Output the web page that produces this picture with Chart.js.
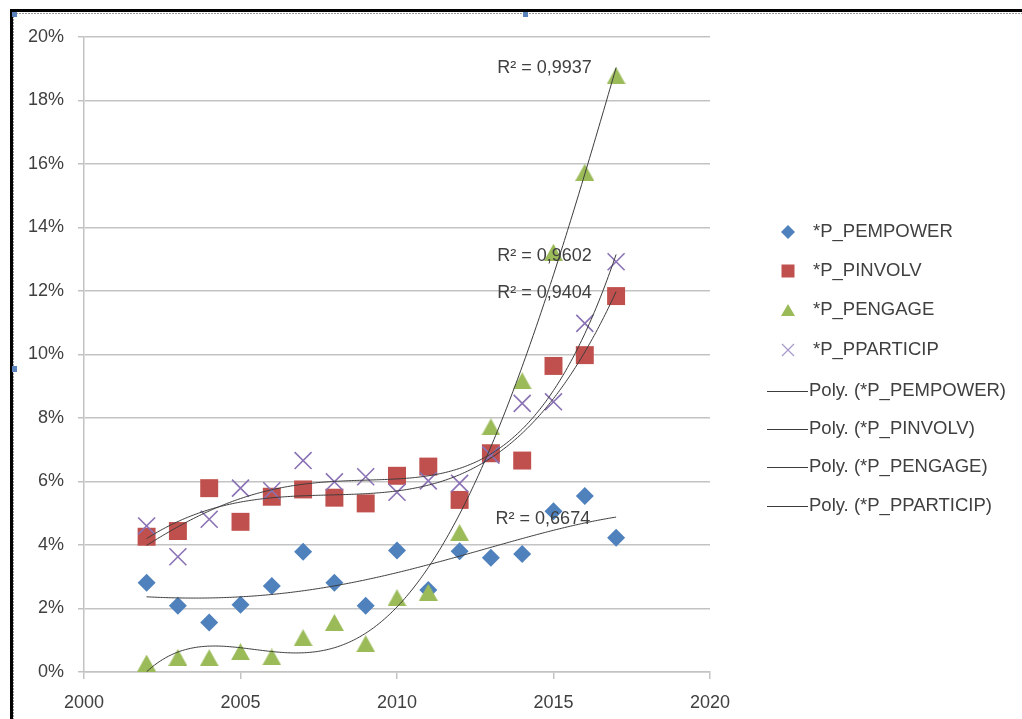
<!DOCTYPE html>
<html>
<head>
<meta charset="utf-8">
<script src="https://cdn.jsdelivr.net/npm/chart.js@4/dist/chart.umd.min.js"></script>
<style>
  html, body { margin: 0; padding: 0; background: #fff; }
  #wrap { width: 1022px; height: 719px; position: relative; }
</style>
</head>
<body>
<div id="wrap"><canvas id="c" width="1022" height="719"></canvas></div>
<script>
// Yearly shares (%) for each indicator
const years = [2002, 2003, 2004, 2005, 2006, 2007, 2008, 2009, 2010, 2011, 2012, 2013, 2014, 2015, 2016, 2017];
const pEmpower  = [2.81, 2.09, 1.56, 2.12, 2.71, 3.79, 2.81, 2.09, 3.83, 2.58, 3.80, 3.60, 3.72, 5.06, 5.54, 4.23];
const pInvolv   = [4.26, 4.44, 5.79, 4.73, 5.52, 5.75, 5.49, 5.31, 6.18, 6.47, 5.42, 6.89, 6.66, 9.64, 9.98, 11.84];
const pEngage   = [0.28, 0.46, 0.45, 0.64, 0.48, 1.08, 1.56, 0.89, 2.34, 2.51, 4.39, 7.72, 9.17, 13.22, 15.74, 18.78];
const pParticip = [4.60, 3.63, 4.81, 5.79, 5.71, 6.66, 5.99, 6.15, 5.66, 6.02, 5.94, 6.83, 8.46, 8.51, 10.98, 12.92];

const seriesNames = ['*P_PEMPOWER', '*P_PINVOLV', '*P_PENGAGE', '*P_PPARTICIP'];
const r2Labels = ['R² = 0,6674', 'R² = 0,9404', 'R² = 0,9937', 'R² = 0,9602'];
const r2LabelPos = [[2013.15, 4.82], [2013.2, 11.94], [2013.2, 19.02], [2013.2, 13.10]];
const xTicks = [2000, 2005, 2010, 2015, 2020];

const FONT = '"Liberation Sans", Arial, sans-serif';
const TXT = '#404040';
const colors = ['#4f81bd', '#c0504d', '#9bbb59', '#8a72b5'];
const POLY_ORDER = 4;

// least-squares polynomial trendline (x centred and scaled for conditioning)
function polyfit(xs, ys, n) {
  const m = n + 1;
  const A = Array.from({length: m}, () => new Array(m).fill(0));
  const b = new Array(m).fill(0);
  xs.forEach((x0, k) => {
    const t = (x0 - 2009.5) / 7.5;
    for (let i = 0; i < m; i++) {
      b[i] += ys[k] * Math.pow(t, i);
      for (let j = 0; j < m; j++) A[i][j] += Math.pow(t, i + j);
    }
  });
  for (let c = 0; c < m; c++) {
    let p = c;
    for (let r = c + 1; r < m; r++) if (Math.abs(A[r][c]) > Math.abs(A[p][c])) p = r;
    [A[c], A[p]] = [A[p], A[c]]; [b[c], b[p]] = [b[p], b[c]];
    for (let r = c + 1; r < m; r++) {
      const f = A[r][c] / A[c][c];
      for (let j = c; j < m; j++) A[r][j] -= f * A[c][j];
      b[r] -= f * b[c];
    }
  }
  const coef = new Array(m).fill(0);
  for (let i = m - 1; i >= 0; i--) {
    let s = b[i];
    for (let j = i + 1; j < m; j++) s -= A[i][j] * coef[j];
    coef[i] = s / A[i][i];
  }
  return x => {
    const t = (x - 2009.5) / 7.5;
    return coef.reduce((acc, c, i) => acc + c * Math.pow(t, i), 0);
  };
}

const allSeries = [pEmpower, pInvolv, pEngage, pParticip];
function trendPoints(ys) {
  const f = polyfit(years, ys, POLY_ORDER);
  const pts = [];
  for (let x = years[0]; x <= years[years.length - 1] + 1e-9; x += 0.05) pts.push({x: x, y: f(x)});
  return pts;
}

// triangle marker centred on its bounding box
function triangleCanvas(w, h, color) {
  const cv = document.createElement('canvas');
  cv.width = w; cv.height = h;
  const g = cv.getContext('2d');
  g.fillStyle = color;
  g.beginPath(); g.moveTo(w / 2, 0); g.lineTo(w, h); g.lineTo(0, h); g.closePath(); g.fill();
  return cv;
}
const triBig = triangleCanvas(19, 17, colors[2]);
const triSmall = triangleCanvas(14, 12, colors[2]);

const pointStyles = ['rectRot', 'rect', triBig, 'crossRot'];
const pointRadius = [9, 12.7, 9, 12];

const datasets = [];
allSeries.forEach((ys, i) => {
  datasets.push({
    type: 'scatter',
    label: seriesNames[i],
    data: years.map((x, k) => ({x: x, y: ys[k]})),
    pointStyle: pointStyles[i],
    pointRadius: pointRadius[i],
    pointHoverRadius: pointRadius[i],
    backgroundColor: colors[i],
    borderColor: colors[i],
    pointBorderWidth: i === 3 ? 1.6 : 0,
    showLine: false,
    order: 10 - i
  });
});
allSeries.forEach((ys, i) => {
  datasets.push({
    type: 'line',
    label: 'Poly. (' + seriesNames[i] + ')',
    data: trendPoints(ys),
    borderColor: '#3c3c3c',
    borderWidth: 1,
    pointRadius: 0,
    tension: 0,
    fill: false,
    order: 1
  });
});

const framePlugin = {
  id: 'frame',
  beforeDraw(chart) {
    const ctx = chart.ctx;
    ctx.save();
    ctx.fillStyle = '#fff';
    ctx.fillRect(0, 0, chart.width, chart.height);
    ctx.restore();
  },
  afterDraw(chart) {
    const ctx = chart.ctx;
    const xs = chart.scales.x, ys = chart.scales.y;
    ctx.save();
    // R² annotations
    ctx.font = '18px ' + FONT;
    ctx.fillStyle = TXT;
    ctx.textBaseline = 'middle';
    ctx.textAlign = 'left';
    r2Labels.forEach((t, i) => {
      ctx.fillText(t, xs.getPixelForValue(r2LabelPos[i][0]), ys.getPixelForValue(r2LabelPos[i][1]));
    });

    // legend
    const rowY = [232, 271, 310, 350, 391, 429, 467, 506];
    const mx = 788;
    ctx.fillStyle = colors[0];
    ctx.beginPath(); ctx.moveTo(mx, rowY[0] - 7); ctx.lineTo(mx + 7, rowY[0]); ctx.lineTo(mx, rowY[0] + 7); ctx.lineTo(mx - 7, rowY[0]); ctx.closePath(); ctx.fill();
    ctx.fillStyle = colors[1];
    ctx.fillRect(mx - 6.5, rowY[1] - 6.5, 13, 13);
    ctx.drawImage(triSmall, mx - 7, rowY[2] - 6);
    ctx.strokeStyle = '#a898cc'; ctx.lineWidth = 1.2;
    ctx.beginPath();
    ctx.moveTo(mx - 6, rowY[3] - 6); ctx.lineTo(mx + 6, rowY[3] + 6);
    ctx.moveTo(mx + 6, rowY[3] - 6); ctx.lineTo(mx - 6, rowY[3] + 6);
    ctx.stroke();
    ctx.fillStyle = TXT;
    ctx.font = '18.5px ' + FONT;
    seriesNames.forEach((n, i) => ctx.fillText(n, 813, rowY[i]));
    ctx.strokeStyle = '#3c3c3c'; ctx.lineWidth = 1;
    seriesNames.forEach((n, i) => {
      const y = rowY[4 + i] + 0.5;
      ctx.beginPath(); ctx.moveTo(767, y); ctx.lineTo(808, y); ctx.stroke();
      ctx.fillText('Poly. (' + n + ')', 809, rowY[4 + i]);
    });

    // window frame
    ctx.fillStyle = '#000';
    ctx.fillRect(10, 9, 1012, 3);
    ctx.fillRect(10, 9, 3, 710);
    ctx.strokeStyle = '#9a9a9a'; ctx.lineWidth = 1; ctx.setLineDash([2, 1]);
    ctx.beginPath(); ctx.moveTo(13, 13.5); ctx.lineTo(1022, 13.5); ctx.stroke();
    ctx.beginPath(); ctx.moveTo(13.5, 13); ctx.lineTo(13.5, 719); ctx.stroke();
    ctx.setLineDash([]);
    ctx.fillStyle = '#5a82bd';
    ctx.fillRect(12, 12, 5, 5);
    ctx.fillRect(523, 12, 5, 5);
    ctx.fillRect(12, 366, 5, 6);
    ctx.restore();
  }
};

new Chart(document.getElementById('c'), {
  data: { datasets: datasets },
  plugins: [framePlugin],
  options: {
    responsive: false,
    animation: false,
    events: [],
    layout: { padding: { left: 0, right: 312, top: 37, bottom: 0 } },
    plugins: { legend: { display: false }, tooltip: { enabled: false } },
    scales: {
      x: {
        type: 'linear', min: 2000, max: 2020,
        afterBuildTicks: s => { s.ticks = xTicks.map(v => ({value: v})); },
        afterFit: s => { s.height = 47; },
        grid: { drawOnChartArea: false, drawTicks: true, tickLength: 7, color: '#c3c3c3', lineWidth: 1.5 },
        border: { display: true, color: '#c3c3c3', width: 1.5 },
        ticks: { color: TXT, font: { family: FONT, size: 18 }, padding: 13, callback: v => String(v), maxRotation: 0 }
      },
      y: {
        type: 'linear', min: 0, max: 20,
        ticks: { stepSize: 2, color: TXT, font: { family: FONT, size: 18 }, padding: 14, callback: v => v + '%' },
        afterFit: s => { s.width = 84; },
        grid: { color: '#c3c3c3', lineWidth: 1.5, tickLength: 6, drawTicks: true },
        border: { display: true, color: '#c3c3c3', width: 1.5 }
      }
    }
  }
});
</script>
</body>
</html>
